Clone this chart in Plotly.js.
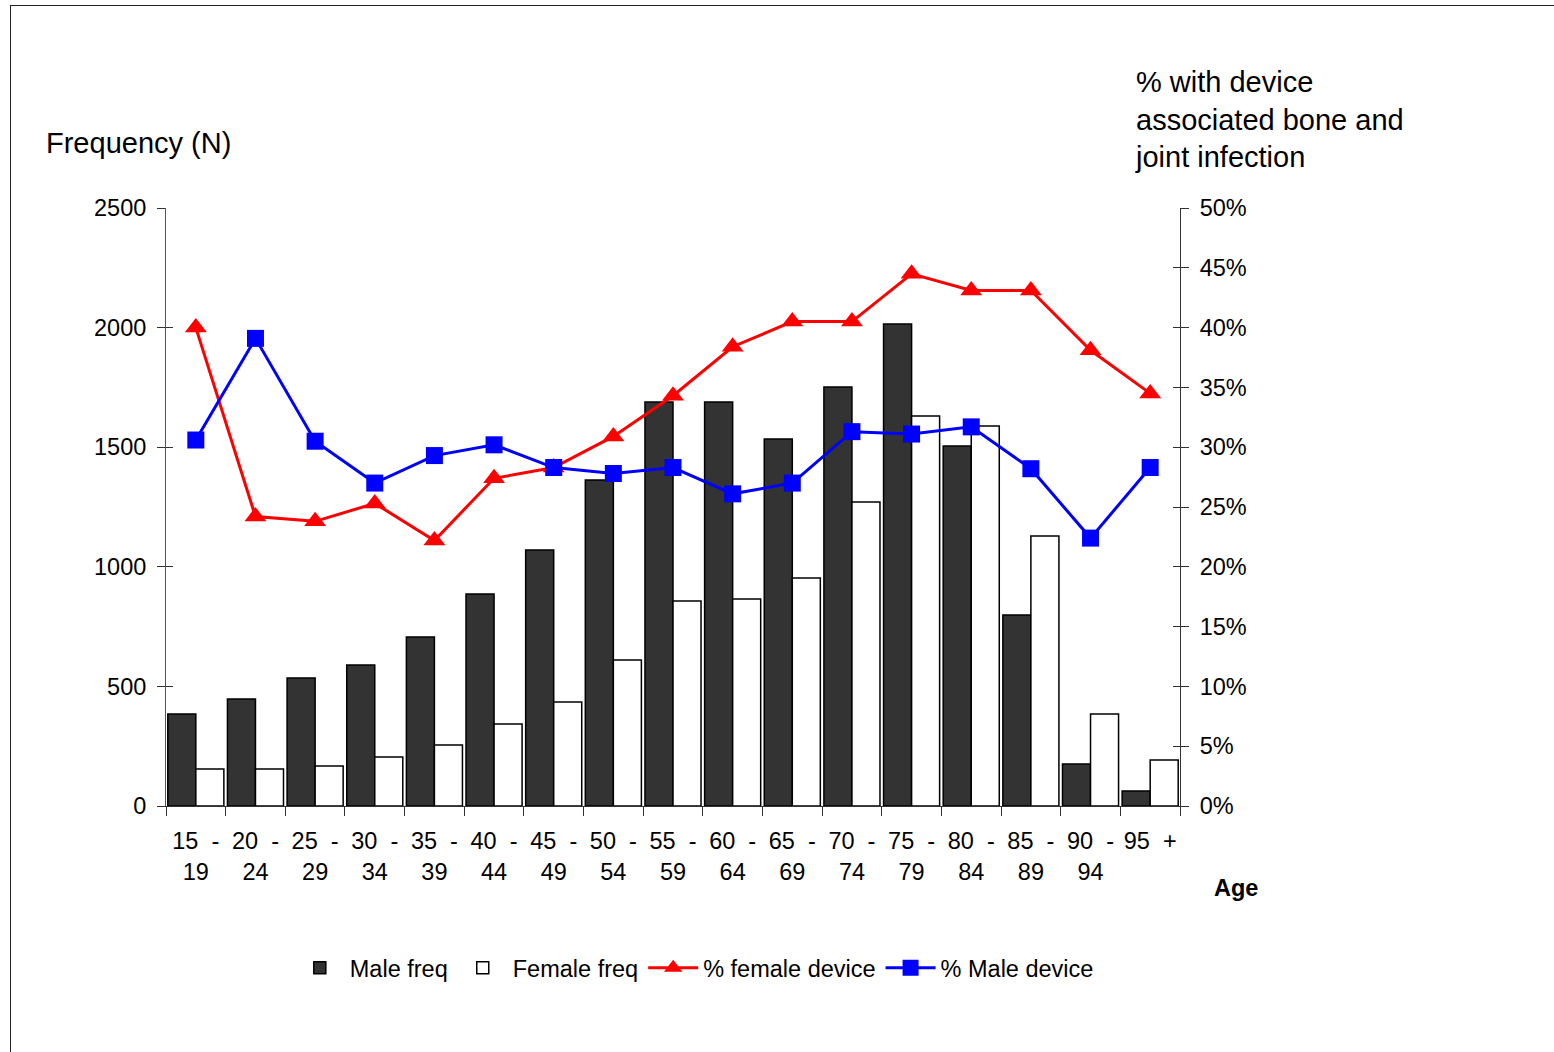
<!DOCTYPE html>
<html>
<head>
<meta charset="utf-8">
<script src="https://cdn.plot.ly/plotly-3.0.1.min.js"></script>
<style>
  html, body { margin: 0; padding: 0; background: #fff; }
  #wrap { position: relative; width: 1554px; height: 1052px; overflow: hidden; }
  #frame { position: absolute; left: 10px; top: 5px; width: 1600px; height: 1100px;
           border-left: 1.5px solid #222; border-top: 1.5px solid #222; pointer-events: none; }
  #chart { position: absolute; left: 0; top: 0; width: 1554px; height: 1052px; }
</style>
</head>
<body>
<div id="wrap">
  <div id="chart"></div>
  <div id="frame"></div>
</div>
<script>
const ageGroups = ["15\u00A0\u00A0-<br>19", "20\u00A0\u00A0-<br>24", "25\u00A0\u00A0-<br>29", "30\u00A0\u00A0-<br>34",
  "35\u00A0\u00A0-<br>39", "40\u00A0\u00A0-<br>44", "45\u00A0\u00A0-<br>49", "50\u00A0\u00A0-<br>54",
  "55\u00A0\u00A0-<br>59", "60\u00A0\u00A0-<br>64", "65\u00A0\u00A0-<br>69", "70\u00A0\u00A0-<br>74",
  "75\u00A0\u00A0-<br>79", "80\u00A0\u00A0-<br>84", "85\u00A0\u00A0-<br>89", "90\u00A0\u00A0-<br>94",
  "95\u00A0\u00A0+"];
const maleFreq   = [385, 447, 535, 589, 707, 886, 1070, 1363, 1689, 1689, 1534, 1752, 2015, 1505, 798, 176, 63];
const femaleFreq = [155, 155, 167, 205, 255, 343, 435, 610, 857, 865, 953, 1271, 1630, 1589, 1129, 385, 192];
const pctFemaleDevice = [40.0, 24.2, 23.8, 25.3, 22.2, 27.4, 28.3, 30.9, 34.3, 38.4, 40.5, 40.5, 44.5, 43.1, 43.1, 38.1, 34.5];
const pctMaleDevice   = [30.6, 39.1, 30.5, 27.0, 29.3, 30.2, 28.3, 27.8, 28.3, 26.1, 27.0, 31.3, 31.1, 31.7, 28.2, 22.4, 28.3];
const leftTicks = [0, 500, 1000, 1500, 2000, 2500];
const rightTicks = [0, 5, 10, 15, 20, 25, 30, 35, 40, 45, 50];
const rightTickText = ["0%", "5%", "10%", "15%", "20%", "25%", "30%", "35%", "40%", "45%", "50%"];

const FONT = "Liberation Sans, Arial, Helvetica, sans-serif";

const traces = [
  { type: "bar", name: "Male freq", x: ageGroups, y: maleFreq,
    marker: { color: "#333333", line: { color: "#000", width: 1.5 } }, yaxis: "y" },
  { type: "bar", name: "Female freq", x: ageGroups, y: femaleFreq,
    marker: { color: "#ffffff", line: { color: "#000", width: 1.5 } }, yaxis: "y" },
  { type: "scatter", mode: "lines+markers", name: "% female device", x: ageGroups, y: pctFemaleDevice,
    yaxis: "y2", line: { color: "#ff0000", width: 3 },
    marker: { symbol: "triangle-up", size: 19, color: "#ff0000" } },
  { type: "scatter", mode: "lines+markers", name: "% Male device", x: ageGroups, y: pctMaleDevice,
    yaxis: "y2", line: { color: "#0000ff", width: 3 },
    marker: { symbol: "square", size: 17, color: "#0000ff" } },
  { type: "scatter", x: [], y: [], yaxis: "y3", showlegend: false, hoverinfo: "skip" },
  { type: "scatter", x: [], y: [], yaxis: "y4", showlegend: false, hoverinfo: "skip" }
];

const layout = {
  width: 1554, height: 1052,
  margin: { l: 166, r: 374, t: 208, b: 246, autoexpand: false },
  paper_bgcolor: "#fff", plot_bgcolor: "#fff",
  font: { family: FONT, size: 23, color: "#000" },
  barmode: "group", bargap: 0.06, bargroupgap: 0,
  showlegend: true,
  legend: { orientation: "h", x: 0.521, xanchor: "center", y: -0.271, yanchor: "middle",
            font: { family: FONT, size: 23.5, color: "#000" }, itemwidth: 50, traceorder: "normal" },
  xaxis: { type: "category", range: [-0.5, 16.5], tickson: "boundaries", automargin: false,
           ticks: "outside", ticklen: 9, tickcolor: "#333", tickangle: 0,
           showline: true, linecolor: "#333", linewidth: 1, showgrid: false, zeroline: false,
           ticklabelstandoff: 14, tickfont: { family: FONT, size: 23.5 } },
  yaxis: { range: [0, 2500], tickvals: leftTicks, ticks: "outside", ticklen: 8, tickcolor: "#333",
           automargin: false,
           showline: true, linecolor: "#555", linewidth: 1, showgrid: false, zeroline: false,
           ticklabelstandoff: 6, tickfont: { family: FONT, size: 23.5 } },
  yaxis2: { range: [0, 50], tickvals: rightTicks, ticktext: rightTickText, automargin: false,
            overlaying: "y", side: "right",
            ticks: "outside", ticklen: 8, tickcolor: "#333", showline: true, linecolor: "#333", linewidth: 1,
            showgrid: false, zeroline: false, ticklabelstandoff: 6, tickfont: { family: FONT, size: 23.5 } },
  yaxis3: { range: [0, 2500], tickvals: leftTicks, overlaying: "y", side: "left", automargin: false,
            ticks: "inside", ticklen: 7,
            tickcolor: "#333", showticklabels: false, showline: false, showgrid: false, zeroline: false },
  yaxis4: { range: [0, 50], tickvals: rightTicks, overlaying: "y", side: "right", automargin: false,
            ticks: "inside", ticklen: 7,
            tickcolor: "#333", showticklabels: false, showline: false, showgrid: false, zeroline: false },
  annotations: [
    { text: "Frequency (N)", xref: "paper", yref: "paper", x: (44 - 166) / 1014, y: (806 - 143) / 598,
      xanchor: "left", yanchor: "middle", showarrow: false, font: { family: FONT, size: 29, color: "#000" } },
    { text: "% with device<br>associated bone and<br>joint infection", xref: "paper", yref: "paper",
      x: (1133 - 166) / 1014, y: (806 - 119) / 598, xanchor: "left", yanchor: "middle", align: "left",
      showarrow: false, font: { family: FONT, size: 29, color: "#000" } },
    { text: "<b>Age</b>", xref: "paper", yref: "paper", x: (1236 - 166) / 1014, y: (806 - 888) / 598,
      xanchor: "center", yanchor: "middle", showarrow: false, font: { family: FONT, size: 23.5, color: "#000" } }
  ],
  hovermode: false
};

Plotly.newPlot("chart", traces, layout, { displayModeBar: false, staticPlot: true });
</script>
</body>
</html>
